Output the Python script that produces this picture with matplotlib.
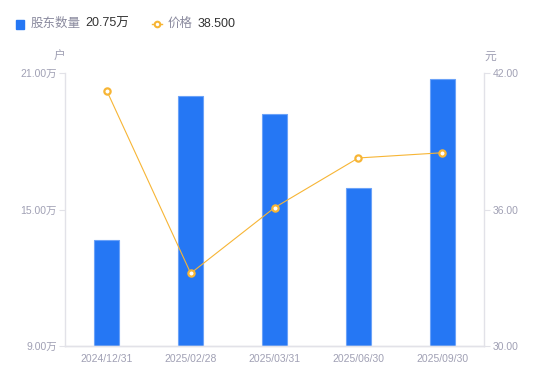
import matplotlib
matplotlib.use("Agg")
import matplotlib.pyplot as plt

plt.rcParams['font.family'] = ['Liberation Sans', 'Noto Sans CJK SC', 'DejaVu Sans']

dates = ['2024/12/31', '2025/02/28', '2025/03/31', '2025/06/30', '2025/09/30']
holders = [13.64, 20.0, 19.2, 15.95, 20.75]   # 万户
price = [41.22, 33.19, 36.08, 38.27, 38.5]    # 元

left_ticks = [9, 15, 21]
right_ticks = [30, 36, 42]

blue = '#2577F4'
orange = '#F7B535'
grey_txt = '#A0A0B4'
axis_col = '#E2E2E8'

fig = plt.figure(figsize=(5.5, 3.81), dpi=100)
ax = fig.add_axes([65 / 550, 35.3 / 381, 419 / 550, 272.4 / 381])
ax2 = ax.twinx()

x = list(range(len(dates)))
ax.bar(x, holders, width=0.3, color=blue, edgecolor='#6BA2F8', linewidth=0.8, zorder=2)
ax2.plot(x, price, color=orange, lw=0.8, marker='o', ms=4.5, mfc='white',
         mec=orange, mew=1.6, zorder=3)

ax.set_xlim(-0.5, len(dates) - 0.5)
ax.set_ylim(9, 21)
ax2.set_ylim(30, 42)

ax.set_xticks(x)
ax.set_xticklabels(dates)
ax.set_yticks(left_ticks)
ax.set_yticklabels([f'{v:.2f}万' for v in left_ticks])
ax2.set_yticks(right_ticks)
ax2.set_yticklabels([f'{v:.2f}' for v in right_ticks])

for a in (ax, ax2):
    for s in a.spines.values():
        s.set_color(axis_col)
        s.set_linewidth(1)
    a.spines['top'].set_visible(False)
    a.tick_params(colors=axis_col, labelcolor=grey_txt, labelsize=7.5, length=4, width=0.8)
ax.spines['right'].set_visible(False)
ax2.spines['left'].set_visible(False)
ax.tick_params(axis='x', length=0, pad=6)
ax.tick_params(axis='y', pad=2)
ax2.tick_params(axis='y', pad=2)

# unit labels
fig.text(59 / 550, 1 - 57 / 381, '户', color=grey_txt, fontsize=8.5, ha='center', va='center')
fig.text(490 / 550, 1 - 57 / 381, '元', color=grey_txt, fontsize=8.5, ha='center', va='center')

# legend row
fig.patches.append(plt.Rectangle((16 / 550, 1 - 29 / 381), 8 / 550, 9 / 381,
                                 transform=fig.transFigure, color=blue))
fig.text(31 / 550, 1 - 24 / 381, '股东数量', color='#8A8A9E', fontsize=9, va='center')
fig.text(85 / 550, 1 - 24 / 381, f'{holders[-1]:.2f}万', color='#333333', fontsize=9, va='center')
fig.lines.append(plt.Line2D([152 / 550, 162 / 550], [1 - 24 / 381] * 2, transform=fig.transFigure,
                            color=orange, lw=1, marker='o', markevery=[0], ms=0))
fig.lines.append(plt.Line2D([157 / 550], [1 - 24 / 381], transform=fig.transFigure,
                            color=orange, marker='o', ms=4, mfc='white', mew=1.5))
fig.text(168 / 550, 1 - 24 / 381, '价格', color='#8A8A9E', fontsize=9, va='center')
fig.text(198 / 550, 1 - 24 / 381, f'{price[-1]:.3f}', color='#333333', fontsize=9, va='center')

fig.savefig('out.png', dpi=100)
